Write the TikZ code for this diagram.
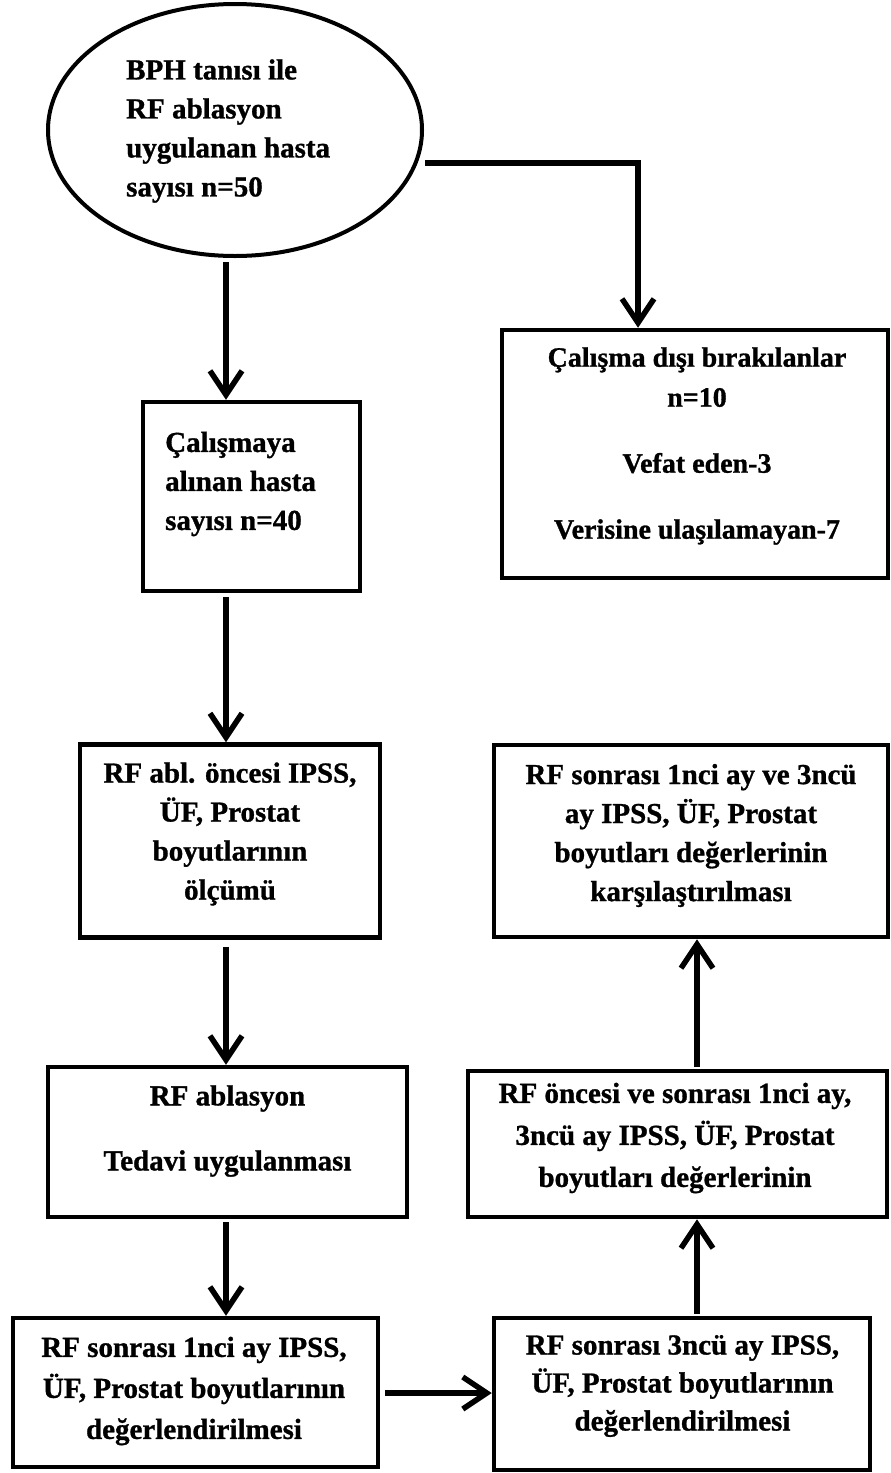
\documentclass[tikz,border=0pt]{standalone}
\usepackage{fontspec}
\setmainfont{Liberation Serif}[BoldFeatures={FakeBold=1}]
\usetikzlibrary{arrows.meta,shapes.geometric}
\tikzset{
  boxnode/.style={draw, line width=4.5pt, rectangle, inner sep=0pt, line join=miter},
  txt/.style={inner sep=0pt, font=\fontsize{29}{39}\selectfont\bfseries},
  conn/.style={line width=5.5pt, line join=miter, -{Straight Barb[length=24pt,width=32pt]}},
}
\begin{document}
\begin{tikzpicture}[x=1pt,y=-1pt]
\fill[white] (0,0) rectangle (891,1473);
\useasboundingbox (0,0) rectangle (891,1473);

% start node
\node[draw, ellipse, line width=4pt, minimum width=374pt, minimum height=252pt, inner sep=0pt] (e) at (235,130) {};
\node[txt, anchor=west, align=left] (te) at (126,131) {BPH tanısı ile\\RF ablasyon\\uygulanan hasta\\sayısı n=50};

% boxes
\node[boxnode, minimum width=386pt, minimum height=248pt] (b1) at (695,454) {};
\node[txt, align=center, font=\fontsize{28}{40}\selectfont\bfseries] (t1) at (697,446) {Çalışma dışı bırakılanlar\\n=10\\[26pt]Vefat eden-3\\[26pt]Verisine ulaşılamayan-7};

\node[boxnode, minimum width=217pt, minimum height=189pt] (b2) at (251.5,496.5) {};
\node[txt, anchor=west, align=left] (t2) at (165,484) {Çalışmaya\\alınan hasta\\sayısı n=40};

\node[boxnode, minimum width=300pt, minimum height=193pt] (b3) at (230,841) {};
\node[txt, align=center] (t3) at (230,834) {RF abl. öncesi IPSS,\\ÜF, Prostat\\boyutlarının\\ölçümü};

\node[boxnode, minimum width=359pt, minimum height=150pt] (b4) at (227.5,1142) {};
\node[txt, align=center] (t4) at (227.5,1131) {RF ablasyon\\[26pt]Tedavi uygulanması};

\node[boxnode, minimum width=365pt, minimum height=149pt] (b5) at (195.5,1392.5) {};
\node[txt, align=center, font=\fontsize{29}{41}\selectfont\bfseries] (t5) at (194,1391) {RF sonrası 1nci ay IPSS,\\ÜF, Prostat boyutlarının\\değerlendirilmesi};

\node[boxnode, minimum width=376pt, minimum height=152pt] (b6) at (682,1394) {};
\node[txt, align=center, font=\fontsize{29}{38}\selectfont\bfseries] (t6) at (682.5,1386) {RF sonrası 3ncü ay IPSS,\\ÜF, Prostat boyutlarının\\değerlendirilmesi};

\node[boxnode, minimum width=419pt, minimum height=146pt] (b7) at (677.5,1144) {};
\node[txt, align=center, font=\fontsize{29}{42}\selectfont\bfseries] (t7) at (675,1138) {RF öncesi ve sonrası 1nci ay,\\3ncü ay IPSS, ÜF, Prostat\\boyutları değerlerinin};

\node[boxnode, minimum width=394pt, minimum height=192pt] (b8) at (691,841) {};
\node[txt, align=center] (t8) at (691,835.5) {RF sonrası 1nci ay ve 3ncü\\ay IPSS, ÜF, Prostat\\boyutları değerlerinin\\karşılaştırılması};

% connector helpers
\coordinate (c1) at (425,163);
\coordinate (c2) at (638,163);
\coordinate (colL) at (226,0);
\coordinate (colR) at (697,0);
\coordinate (rowB) at (0,1393);
\coordinate (a2s) at (226,262);

% connectors
\draw[conn] (c1) -- (c2) -- (c2 |- b1.north);
\draw[conn] (a2s) -- (a2s |- b2.north);
\draw[conn, shorten <=4pt] (b2.south -| colL) -- (b3.north -| colL);
\draw[conn, shorten <=7pt] (b3.south -| colL) -- (b4.north -| colL);
\draw[conn, shorten <=3pt] (b4.south -| colL) -- (b5.north -| colL);
\draw[conn, shorten <=5pt] (b5.east |- rowB) -- (b6.west |- rowB);
\draw[conn, shorten <=2pt] (b6.north -| colR) -- (b7.south -| colR);
\draw[conn, shorten <=2pt] (b7.north -| colR) -- (b8.south -| colR);
\end{tikzpicture}
\end{document}
